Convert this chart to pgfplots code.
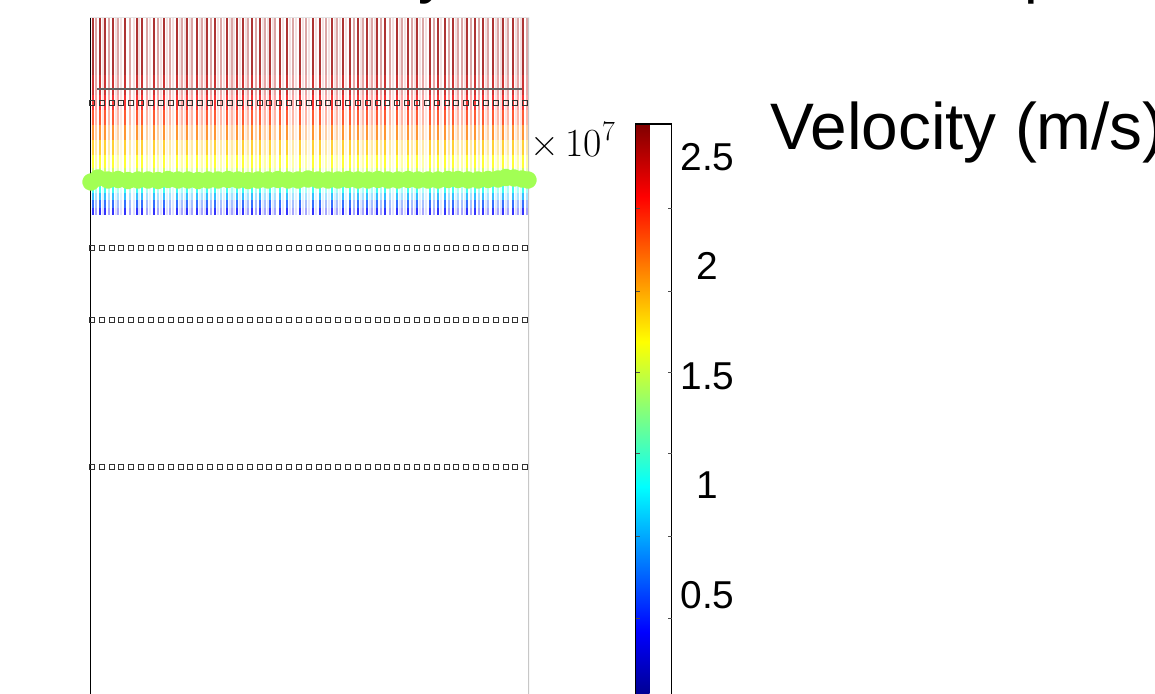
\documentclass[border=0pt]{standalone}
\usepackage{fontspec}
\setmainfont{Liberation Sans}
\newfontfamily\lmr{Latin Modern Roman}
\usepackage{pgfplots}
\usepackage{pgfplotstable}
\pgfplotsset{compat=1.18}

% velocity along one trajectory (y in px-like units, v in 1e7 m/s)
\pgfplotstableread{
y v
479 0.25
486 0.40
494 0.65
501 0.92
508 1.15
516 1.40
526 1.60
539 1.72
554 1.90
569 2.10
584 2.28
599 2.42
619 2.55
677 2.62
}\profile

\pgfplotstableread{
x n
2 1
12 2
22 3
31 4
41 5
51 6
61 7
71 8
81 9
91 10
100 11
110 12
120 13
130 14
140 15
150 16
160 17
170 18
179 19
189 20
199 21
209 22
219 23
229 24
238 25
248 26
258 27
268 28
278 29
288 30
297 31
307 32
317 33
327 34
337 35
347 36
357 37
366 38
376 39
386 40
396 41
406 42
416 43
425 44
435 45
}\squarex

\definecolor{beamgreen}{RGB}{162,255,84}
\definecolor{refline}{RGB}{96,96,96}

\begin{document}
\begin{tikzpicture}
\begin{axis}[
  at={(90bp,-20bp)}, anchor=south west,
  scale only axis, width=439bp, height=697bp,
  xmin=0, xmax=439, ymin=-20, ymax=677,
  xtick=\empty, ytick=\empty,
  axis line style={draw=none},
  colormap/jet, point meta min=0, point meta max=2.65,
]
% strong trajectories
\pgfplotsinvokeforeach{3,10,15,23,35,47,52,64,74,87,97,107,117,125,137,147,153,162,170,180,190,197,210,223,230,242,253,260,268,277,287,295,307,318,327,340,348,355,363,377,385,393,403,413,423,433}{
  \addplot[mesh, point meta=explicit, line width=1.4bp, opacity=0.8, forget plot] table[x expr=#1, y=y, meta=v] {\profile};
}
% medium trajectories
\pgfplotsinvokeforeach{6,19,28,40,57,68,80,92,102,112,121,131,142,158,166,175,185,203,216,236,247,264,273,282,291,300,312,322,333,344,359,368,372,381,389,398,408,418,428,437}{
  \addplot[mesh, point meta=explicit, line width=1.4bp, opacity=0.35, forget plot] table[x expr=#1, y=y, meta=v] {\profile};
}
% faint trajectories
\pgfplotsinvokeforeach{13,26,31,44,49,60,71,77,83,90,95,100,110,115,128,134,140,144,150,156,173,178,183,193,200,206,213,219,226,233,239,245,250,256,271,280,285,303,310,315,325,330,336,351,366,375,396,406,411,416,426,431}{
  \addplot[mesh, point meta=explicit, line width=1.4bp, opacity=0.12, forget plot] table[x expr=#1, y=y, meta=v] {\profile};
}
% reference line
\addplot[refline, line width=1.4bp, forget plot] coordinates {(7,605) (432,605)};
% rows of square markers
\pgfplotsinvokeforeach{591,446,374,227}{
  \addplot[only marks, mark=square, mark size=2.2bp, mark options={draw=black!80, line width=0.9bp}, forget plot] table[x=x, y expr=#1] {\squarex};
}
% green beam
\addplot[beamgreen, line width=8.5bp, line join=round, mark=*, mark size=4.6bp, mark options={fill=beamgreen, draw=none}, forget plot] coordinates {
(1,512) (8,516) (18,514) (28,514.5) (38,513.5) (48,514) (58,514) (68,513.5) (78,514.5) (88,514)
(98,514) (108,513.5) (118,514) (128,514) (138,514.5) (148,514) (158,513.5) (168,514) (178,514) (188,514.5)
(198,514) (208,514) (218,515) (228,514) (238,514) (248,514) (258,514.5) (268,514) (278,514) (288,514.5)
(298,514) (308,514) (318,514.5) (328,514) (338,514) (348,514) (358,514.5) (368,514.5) (378,514) (388,514)
(398,514.5) (408,515) (416,516.5) (424,516) (432,515) (438,514)};
\draw[black, line width=1.3bp] (rel axis cs:0,0) -- (rel axis cs:0,1);
\draw[black!22, line width=1.3bp] (rel axis cs:1,0) -- (rel axis cs:1,1);
\draw[black!10, line width=0.8bp] (rel axis cs:0,1) -- (rel axis cs:1,1);
\end{axis}

% colour bar
\begin{axis}[
  at={(627bp,-10.5bp)}, anchor=south west,
  scale only axis, width=36bp, height=580.5bp,
  hide axis, xmin=0, xmax=1, ymin=0, ymax=1,
  colormap/jet, point meta min=0, point meta max=2.65,
  colorbar,
  colorbar style={
    at={(parent axis.south west)}, anchor=south west,
    scale only axis, width=36bp, height=580.5bp,
    ytick={0.5,1,1.5,2,2.5},
    yticklabels={0.5,1,1.5,2,2.5},
    yticklabel style={font=\fontsize{39}{40}\selectfont, anchor=center, xshift=36bp},
    major tick length=0pt,
    ytick pos=both,
    yticklabel pos=right,
    tick align=inside,
    extra y ticks={0.395,0.769,1.144,1.514,1.888,2.263},
    extra y tick labels={},
    extra y tick style={major tick length=4bp, tick style={black!70, line width=0.8bp}},
    axis line style={black, line width=1.2bp},
  },
]
\addplot[draw=none] coordinates {(0,0)};
\end{axis}

\node[anchor=base west, inner sep=0pt, font=\lmr\fontsize{40}{42}\selectfont] at (530bp,537bp) {×\,10\raisebox{0.42em}{\fontsize{28}{28}\selectfont 7}};
\node[anchor=base west, inner sep=0pt, font=\fontsize{66}{70}\selectfont] at (770bp,544bp) {Velocity (m/s)};
\node[anchor=base east, inner sep=0pt, font=\fontsize{61.5}{62}\selectfont] at (418bp,702bp) {Electron Velocit};
\node[anchor=base west, inner sep=0pt, font=\fontsize{61.5}{62}\selectfont] at (418bp,702bp) {y Distribution at the Top};

\pgfresetboundingbox
\useasboundingbox (0,0) rectangle (1155bp,694bp);
\end{tikzpicture}
\end{document}
